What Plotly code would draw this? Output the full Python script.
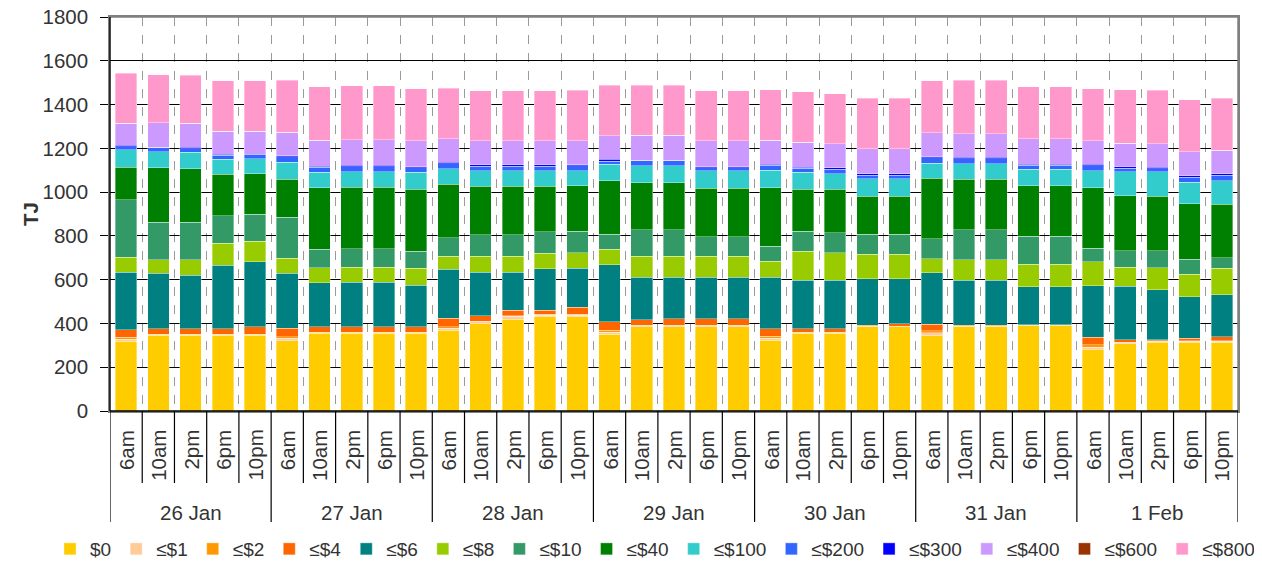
import plotly.graph_objects as go

days = ["26 Jan", "27 Jan", "28 Jan", "29 Jan", "30 Jan", "31 Jan", "1 Feb"]
times = ["6am", "10am", "2pm", "6pm", "10pm"]

series_names = ["$0", "≤$1", "≤$2", "≤$4", "≤$6", "≤$8", "≤$10", "≤$40",
                "≤$100", "≤$200", "≤$300", "≤$400", "≤$600", "≤$800"]
series_colors = ["#FFCC00", "#FFCC99", "#FF9900", "#FF6600", "#008080", "#99CC00",
                 "#339966", "#008000", "#33CCCC", "#3366FF", "#0000FF", "#CC99FF",
                 "#993300", "#FF99CC"]

v_0 = [318, 346, 346, 346, 346,
       320, 355, 355, 355, 355,
       369, 399, 420, 430, 430,
       350, 384, 384, 384, 384,
       323, 355, 355, 384, 384,
       343, 384, 384, 389, 389,
       280, 308, 315, 315, 315]
v_1 = [10, 2, 2, 2, 2,
       12, 2, 2, 2, 2,
       8, 9, 12, 8, 8,
       10, 6, 6, 6, 6,
       10, 3, 3, 2, 2,
       15, 2, 2, 1, 1,
       12, 3, 3, 3, 3]
v_2 = [8, 2, 2, 2, 2,
       8, 2, 2, 2, 2,
       8, 3, 3, 3, 3,
       8, 2, 2, 2, 2,
       8, 2, 2, 1, 1,
       8, 1, 1, 1, 1,
       10, 3, 2, 2, 2]
v_4 = [35, 26, 26, 26, 34,
       37, 25, 25, 25, 25,
       38, 25, 25, 20, 34,
       40, 24, 30, 30, 30,
       35, 16, 16, 5, 12,
       30, 5, 5, 2, 2,
       35, 12, 5, 12, 20]
v_6 = [262, 254, 244, 291, 299,
       253, 201, 204, 204, 190,
       224, 198, 174, 190, 177,
       260, 196, 190, 190, 190,
       236, 221, 221, 213, 206,
       236, 206, 206, 175, 175,
       236, 244, 228, 190, 190]
v_8 = [70, 61, 72, 100, 93,
       69, 69, 69, 69, 79,
       61, 72, 72, 70, 70,
       70, 94, 94, 94, 94,
       72, 133, 125, 110, 110,
       64, 94, 94, 102, 102,
       110, 87, 102, 102, 123]
v_10 = [262, 171, 171, 125, 123,
        186, 85, 85, 85, 76,
        84, 100, 100, 99, 99,
        69, 122, 122, 91, 91,
        69, 91, 93, 93, 93,
        91, 137, 137, 129, 129,
        61, 76, 76, 69, 47]
v_40 = [149, 250, 244, 190, 184,
        174, 280, 280, 280, 283,
        245, 221, 221, 207, 207,
        244, 215, 215, 221, 221,
        267, 192, 198, 174, 174,
        276, 230, 230, 230, 230,
        276, 251, 251, 253, 245]
v_100 = [79, 72, 76, 69, 69,
         78, 72, 72, 72, 78,
         70, 70, 70, 70, 70,
         76, 78, 78, 79, 79,
         79, 78, 70, 78, 78,
         70, 70, 70, 76, 76,
         78, 110, 110, 99, 107]
v_200 = [15, 20, 14, 18, 18,
         24, 23, 23, 23, 21,
         23, 22, 22, 22, 22,
         15, 24, 24, 14, 14,
         23, 17, 22, 18, 18,
         23, 23, 23, 17, 17,
         23, 15, 15, 23, 26]
v_300 = [6, 2, 7, 4, 4,
         5, 5, 5, 5, 6,
         7, 5, 5, 5, 5,
         8, 1, 1, 6, 6,
         5, 6, 7, 5, 5,
         6, 7, 7, 6, 6,
         6, 6, 6, 6, 5]
v_400 = [101, 110, 110, 105, 105,
         108, 117, 117, 117, 117,
         107, 110, 110, 110, 110,
         108, 113, 113, 117, 117,
         110, 114, 108, 116, 116,
         110, 108, 108, 116, 116,
         108, 108, 108, 110, 108]
v_600 = [0] * 35
v_800 = [228, 221, 221, 230, 230,
         236, 246, 246, 246, 238,
         230, 230, 230, 230, 230,
         230, 230, 230, 230, 230,
         230, 230, 230, 230, 230,
         236, 244, 244, 238, 238,
         237, 245, 245, 238, 237]

series_values = [v_0, v_1, v_2, v_4, v_6, v_8, v_10, v_40, v_100, v_200,
                 v_300, v_400, v_600, v_800]

y_ticks = list(range(0, 1801, 200))

cats = [f"{d} {t}" for d in days for t in times]

FONT = "Arial, Liberation Sans, sans-serif"
TXT = "#333333"
FS = 20.5

fig = go.Figure()
for name, color, vals in zip(series_names, series_colors, series_values):
    fig.add_trace(go.Bar(
        x=cats, y=vals, name=name,
        marker=dict(color=color, line=dict(color="rgba(255,255,255,0.6)", width=0.6)),
    ))

# Figure geometry; the page renders the figure with an 8px body offset
W, H = 1262, 567
OFF = 8
ml, mt = 110 - OFF, 17 - OFF
mr = W - (1238 - OFF)
mb = H - (411 - OFF)
ph = H - mt - mb
pw = W - ml - mr

def py(screen_px):
    return ((H - mb) - (screen_px - OFF)) / ph

def px_(screen_px):
    return ((screen_px - OFF) - ml) / pw

shapes = []
n = len(cats)
for i in range(n + 1):
    is_day = (i % len(times) == 0)
    shapes.append(dict(type="line", xref="x", yref="paper",
                       x0=i - 0.5, x1=i - 0.5, y0=0,
                       y1=py(522) if is_day else py(483),
                       line=dict(color="black", width=1.2)))
shapes.append(dict(type="line", xref="paper", yref="paper", x0=0, x1=1, y0=1, y1=1,
                   line=dict(color="#808080", width=1.5), layer="above"))
shapes.append(dict(type="line", xref="paper", yref="paper", x0=1, x1=1, y0=0, y1=1,
                   line=dict(color="#808080", width=1.5), layer="above"))
shapes.append(dict(type="line", xref="paper", yref="paper", x0=0, x1=0, y0=0, y1=1,
                   line=dict(color="black", width=1.4)))
shapes.append(dict(type="line", xref="paper", yref="paper", x0=0, x1=1, y0=0, y1=0,
                   line=dict(color="black", width=1.4)))

annotations = []
for c, t in zip(cats, [t for d in days for t in times]):
    annotations.append(dict(x=c, xref="x", y=py(428), yref="paper", text=t,
                            textangle=-90, showarrow=False, yanchor="top",
                            xanchor="center",
                            font=dict(family=FONT, size=FS, color=TXT)))
for j, d in enumerate(days):
    annotations.append(dict(x=cats[j * len(times) + 2], xref="x", y=py(512), yref="paper",
                            text=d, showarrow=False, yanchor="middle", xanchor="center",
                            font=dict(family=FONT, size=FS, color=TXT)))
annotations.append(dict(x=px_(30), xref="paper", y=0.5, yref="paper",
                        text="<b>TJ</b>", textangle=-90, showarrow=False,
                        xanchor="center", yanchor="middle",
                        font=dict(family=FONT, size=FS, color=TXT)))

fig.update_layout(
    barmode="stack",
    bargap=0.33,
    width=W, height=H,
    margin=dict(l=ml, r=mr, t=mt, b=mb, autoexpand=False),
    plot_bgcolor="white", paper_bgcolor="white",
    font=dict(family=FONT, color=TXT),
    showlegend=True,
    legend=dict(orientation="h", xref="paper", yref="paper",
                x=px_(50), xanchor="left",
                y=py(549), yanchor="middle",
                font=dict(family=FONT, size=19, color=TXT), traceorder="normal",
                itemwidth=30, bgcolor="rgba(0,0,0,0)"),
    xaxis=dict(type="category", showticklabels=False, ticks="",
               tickson="boundaries", showgrid=True, gridcolor="#9a9a9a",
               griddash="dash", gridwidth=1, showline=True, mirror=True,
               linecolor="#808080", linewidth=1.5, zeroline=False,
               automargin=False, range=[-0.5, n - 0.5]),
    yaxis=dict(range=[0, 1800], tickvals=y_ticks, ticks="outside", ticklen=8,
               tickcolor="black", tickwidth=1.2, showgrid=True, gridcolor="black",
               gridwidth=1, showline=True, mirror=True, linecolor="#808080",
               linewidth=1.5, zeroline=False, automargin=False,
               ticklabelstandoff=8, ticklabeloverflow="allow",
               tickfont=dict(family=FONT, size=FS, color=TXT)),
    shapes=shapes,
    annotations=annotations,
)

fig.write_html("out.html")
